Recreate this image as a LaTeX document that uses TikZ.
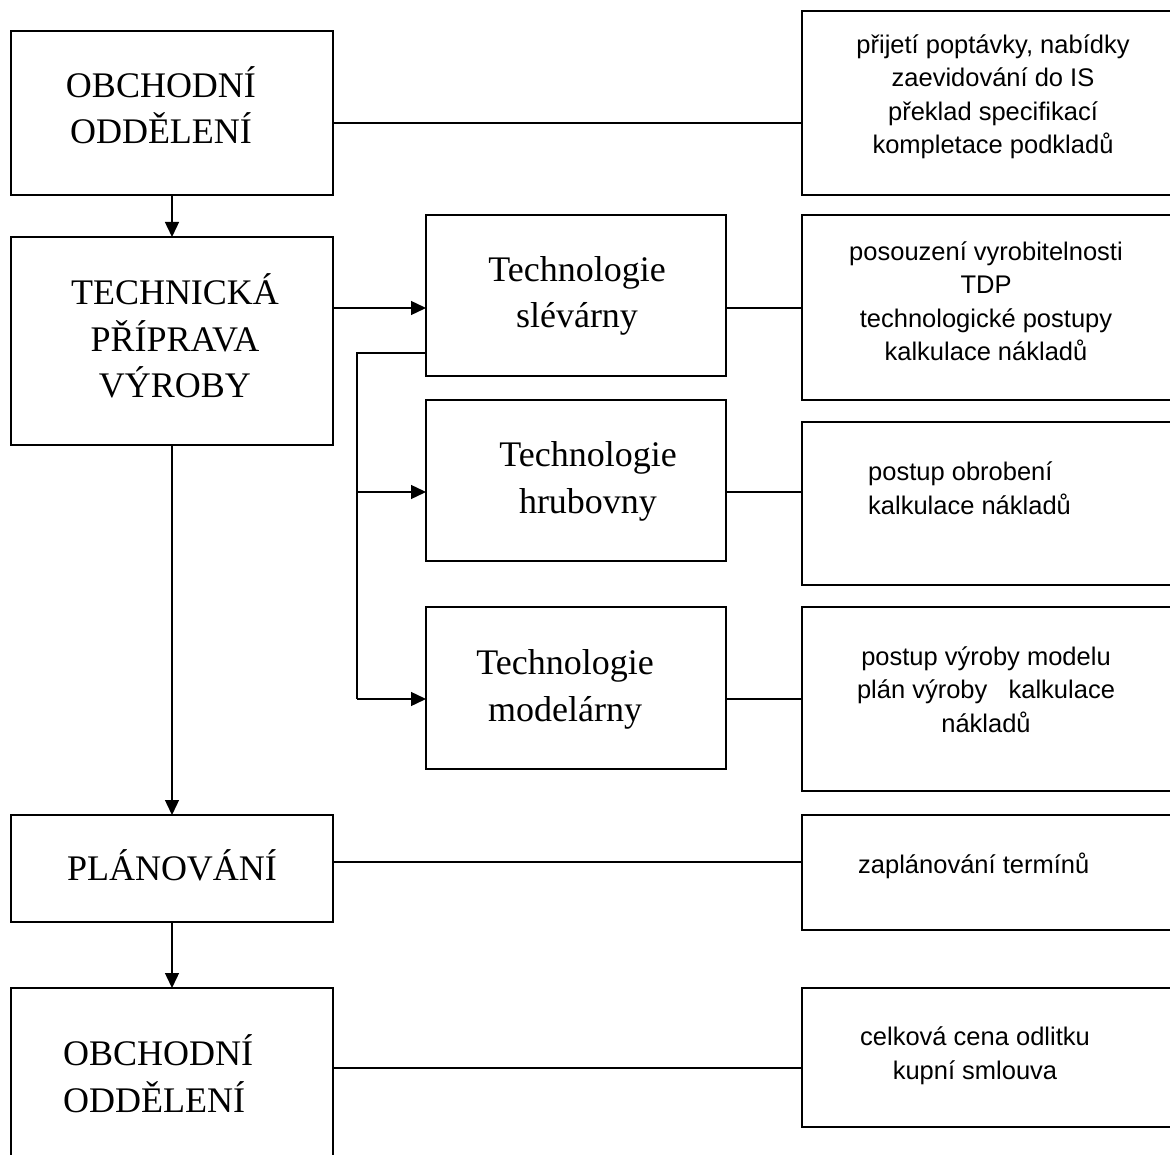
\documentclass[tikz,border=0pt]{standalone}
\usepackage{fontspec}
\setmainfont{Liberation Serif}
\setsansfont{Liberation Sans}
\usetikzlibrary{arrows.meta}
\tikzset{
  box/.style={draw, line width=1.4pt, inner sep=0pt, outer sep=0pt},
  serif/.style={anchor=base, align=center, inner sep=0pt, font=\fontsize{36}{46.5}\selectfont},
  sans/.style={anchor=base, align=center, inner sep=0pt, font=\sffamily\fontsize{25.5}{33.5}\selectfont},
  link/.style={line width=1.2pt},
  arr/.style={line width=1.4pt, -{Triangle[length=15pt,width=14pt]}}
}
\begin{document}
\begin{tikzpicture}[x=1pt,y=-1pt]
\useasboundingbox (0,0) rectangle (1170,1155);
\clip (0,0) rectangle (1170,1155);
% left column boxes
\node[box, minimum width=322pt, minimum height=164pt] (A) at (172,113) {};
\node[box, minimum width=322pt, minimum height=208pt] (B) at (172,341) {};
\node[box, minimum width=322pt, minimum height=107pt] (P) at (172,868.5) {};
\node[box, minimum width=322pt, minimum height=212pt] (O) at (172,1094) {};
% middle boxes
\node[box, minimum width=300pt, minimum height=161pt] (S) at (576,295.5) {};
\node[box, minimum width=300pt, minimum height=161pt] (H) at (576,480.5) {};
\node[box, minimum width=300pt, minimum height=162pt] (M) at (576,688) {};
% right boxes (cut by the page edge)
\node[box, minimum width=400pt, minimum height=184pt] (R1) at (1002,103) {};
\node[box, minimum width=400pt, minimum height=185pt] (R2) at (1002,307.5) {};
\node[box, minimum width=400pt, minimum height=163pt] (R3) at (1002,503.5) {};
\node[box, minimum width=400pt, minimum height=184pt] (R4) at (1002,699) {};
\node[box, minimum width=400pt, minimum height=115pt] (R5) at (1002,872.5) {};
\node[box, minimum width=400pt, minimum height=139pt] (R6) at (1002,1057.5) {};
% texts (anchor base = baseline of the last line)
\node[serif] (tA) at (161,144) {OBCHODNÍ\\ODDĚLENÍ};
\node[serif] (tB) at (175,398) {TECHNICKÁ\\PŘÍPRAVA\\VÝROBY};
\node[serif] (tS) at (577,328) {Technologie\\slévárny};
\node[serif] (tH) at (588,513) {Technologie\\hrubovny};
\node[serif] (tM) at (565,721) {Technologie\\modelárny};
\node[serif] (tP) at (172,880) {PLÁNOVÁNÍ};
\node[serif, anchor=base west, align=left] (tO) at (63,1112) {OBCHODNÍ\\ODDĚLENÍ};
\node[sans] (t1) at (993,154) {přijetí poptávky, nabídky\\zaevidování do IS\\překlad specifikací\\kompletace podkladů};
\node[sans] (t2) at (986,361) {posouzení vyrobitelnosti\\TDP\\technologické postupy\\kalkulace nákladů};
\node[sans, anchor=base west, align=left] (t3) at (868,514) {postup obrobení\\kalkulace nákladů};
\node[sans] (t4) at (986,732) {postup výroby modelu\\plán výroby\ \ \ kalkulace\\nákladů};
\node[sans, anchor=base west, align=left] (t5) at (858,873) {zaplánování termínů};
\node[sans] (t6) at (975,1079) {celková cena odlitku\\kupní smlouva};
% junction coordinates
\coordinate (yA) at (0,123);
\coordinate (yS) at (0,308);
\coordinate (yH) at (0,492);
\coordinate (yM) at (0,699);
\coordinate (yP) at (0,862);
\coordinate (yO) at (0,1068);
\coordinate (j1) at (357,353);
\coordinate (j2) at (357,492);
\coordinate (j3) at (357,699);
% vertical flow
\draw[arr] (A.south) -- (B.north);
\draw[arr] (B.south) -- (P.north);
\draw[arr] (P.south) -- (O.north);
% technical preparation to technologies
\draw[arr] (B.east |- yS) -- (S.west |- yS);
\draw[line width=1.4pt] (S.west |- j1) -- (j1) -- (j3);
\draw[arr] (j2) -- (H.west |- j2);
\draw[arr] (j3) -- (M.west |- j3);
% links to the right boxes
\draw[link] (A.east |- yA) -- (R1.west |- yA);
\draw[link] (S.east |- yS) -- (R2.west |- yS);
\draw[link] (H.east |- yH) -- (R3.west |- yH);
\draw[link] (M.east |- yM) -- (R4.west |- yM);
\draw[link] (P.east |- yP) -- (R5.west |- yP);
\draw[link] (O.east |- yO) -- (R6.west |- yO);
\end{tikzpicture}
\end{document}
